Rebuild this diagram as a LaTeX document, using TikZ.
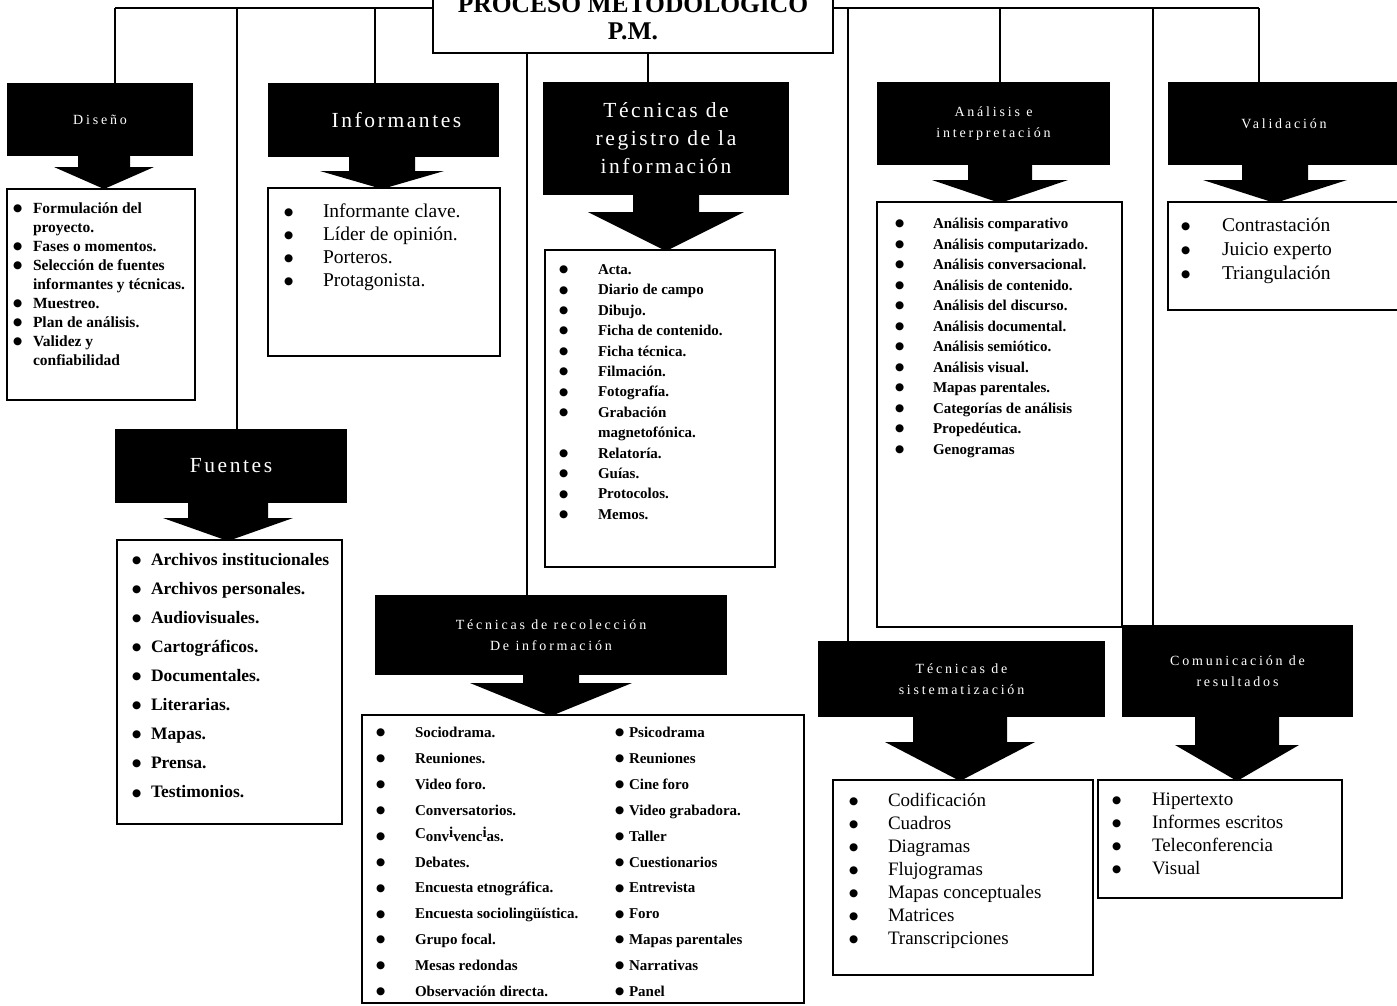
\documentclass[tikz,border=0pt]{standalone}
\usepackage{fontspec}
\setmainfont{Liberation Serif}
\newfontfamily\lblsmall[LetterSpace=20]{Liberation Serif}
\newfontfamily\lblbig[LetterSpace=12]{Liberation Serif}
\newfontfamily\dvbul{DejaVu Sans}
\newcommand\bw{18pt}
\newcommand\bi{\makebox[\bw][l]{\raisebox{1.8pt}{\dvbul\fontsize{10.5}{10.5}\selectfont ●}}}
\newcommand{\blkarr}[6]{\fill ({#1-#2},#3) -- ({#1+#2},#3) -- ({#1+#2},#4) -- ({#1+#5},#4) -- (#1,#6) -- ({#1-#5},#4) -- ({#1-#2},#4) -- cycle;}
\begin{document}
\begin{tikzpicture}[x=1pt,y=-1pt,
  bbox/.style={fill=black,text=white,inner sep=0pt,outer sep=0pt,align=center},
  lbox/.style={draw=black,line width=1.8pt,fill=white,inner sep=0pt,outer sep=0pt},
  conn/.style={line width=1.8pt},
  lst/.style={inner sep=0pt,outer sep=0pt,anchor=base west,align=left},
  small/.style={font=\lblsmall\fontsize{14}{20.5}\selectfont},
  big/.style={font=\lblbig\fontsize{21.5}{28}\selectfont},
]
\useasboundingbox (0,0) rectangle (1397,1005);
\clip (0,0) rectangle (1397,1005);
\fill[white] (0,0) rectangle (1397,1005);

% title
\node[draw,line width=2.5pt,fill=white,minimum width=400pt,minimum height=90pt,inner sep=0pt,outer sep=0pt] (title) at (633,8) {};
\node[anchor=base,inner sep=0pt,font=\fontsize{25.5}{28}\selectfont\bfseries] (t1) at (633,12) {PROCESO METODOLOGICO};
\node[anchor=base,inner sep=0pt,font=\fontsize{25.5}{28}\selectfont\bfseries] (t2) at (633,39) {P.M.};

% black header boxes
\node[bbox,minimum width=186pt,minimum height=73pt,small] (dis) at (100,119.5) {Diseño};
\node[bbox,minimum width=231pt,minimum height=74pt,big] (inf) at (383.5,120) {\hspace*{26pt}Informantes};
\node[bbox,minimum width=246pt,minimum height=113pt,big] (reg) at (666,138.5) {Técnicas de\\registro de la\\información};
\node[bbox,minimum width=233pt,minimum height=83pt,small] (ana) at (993.5,123.5) {Análisis e\\interpretación};
\node[bbox,minimum width=232pt,minimum height=83pt,small] (val) at (1284,123.5) {Validación};
\node[bbox,minimum width=232pt,minimum height=74pt,big] (fue) at (231,466) {Fuentes};
\node[bbox,minimum width=352pt,minimum height=80pt,small] (rec) at (551,635) {Técnicas de recolección\\De información};
\node[bbox,minimum width=287pt,minimum height=76pt,small] (sis) at (961.5,679) {Técnicas de\\sistematización};
\node[bbox,minimum width=231pt,minimum height=92pt,small] (com) at (1237.5,671) {Comunicación de\\resultados};

% connectors
\coordinate (b1) at (115,8);
\coordinate (b2) at (237,8);
\coordinate (b3) at (375,8);
\coordinate (b4) at (848,8);
\coordinate (b5) at (1000,8);
\coordinate (b6) at (1153,8);
\coordinate (b7) at (1259,8);
\coordinate (c1) at (527,53);
\coordinate (c2) at (648,53);
\draw[conn] (b1) -- (title.west |- b1);
\draw[conn] (title.east |- b7) -- (b7);
\draw[conn] (b1) -- (b1 |- dis.north);
\draw[conn] (b2) -- (b2 |- fue.north);
\draw[conn] (b3) -- (b3 |- inf.north);
\draw[conn] (b4) -- (b4 |- sis.north);
\draw[conn] (b5) -- (b5 |- ana.north);
\draw[conn] (b6) -- (b6 |- com.north);
\draw[conn] (b7) -- (b7 |- val.north);
\draw[conn] (c1) -- (c1 |- rec.north);
\draw[conn] (c2) -- (c2 |- reg.north);

% list boxes
\node[lbox,minimum width=188pt,minimum height=211pt] (ldis) at (101,294.5) {};
\node[lbox,minimum width=232pt,minimum height=168pt] (linf) at (384,272) {};
\node[lbox,minimum width=230pt,minimum height=317pt] (lreg) at (660,408.5) {};
\node[lbox,minimum width=245pt,minimum height=425pt] (lana) at (999.5,414.5) {};
\node[lbox,minimum width=232pt,minimum height=108pt] (lval) at (1284,256) {};
\node[lbox,minimum width=225pt,minimum height=284pt] (lfue) at (229.5,682) {};
\node[lbox,minimum width=442pt,minimum height=288pt] (lrec) at (583,859) {};
\node[lbox,minimum width=260pt,minimum height=195pt] (lsis) at (963,877.5) {};
\node[lbox,minimum width=244pt,minimum height=118pt] (lcom) at (1220,839) {};

% block arrows
\blkarr{104}{26}{155}{167}{50}{189}
\blkarr{382}{33}{156}{171}{62}{189}
\blkarr{666}{33}{194}{212}{78}{251}
\blkarr{1000}{32}{164}{180}{68}{203}
\blkarr{1275}{33}{164}{180}{72}{203}
\blkarr{228}{40}{502}{518}{65}{541}
\blkarr{551}{28}{674}{683}{81}{716}
\blkarr{960}{47}{716}{742}{75}{781}
\blkarr{1237}{42}{716}{745}{62}{781}

% list texts
\node[lst] (tdis) at (13,213) {\fontsize{15.5}{19}\selectfont\bfseries\renewcommand\bw{20pt}%
\begin{tabular}[t]{@{}l@{}l@{}}
\bi&Formulación del\\
&proyecto.\\
\bi&Fases o momentos.\\
\bi&Selección de fuentes\\
&informantes y técnicas.\\
\bi&Muestreo.\\
\bi&Plan de análisis.\\
\bi&Validez y\\
&confiabilidad
\end{tabular}};

\node[lst] (tinf) at (284,217) {\fontsize{19.5}{23}\selectfont\renewcommand\bw{39pt}%
\begin{tabular}[t]{@{}l@{}l@{}}
\bi&Informante clave.\\
\bi&Líder de opinión.\\
\bi&Porteros.\\
\bi&Protagonista.
\end{tabular}};

\node[lst] (treg) at (559,274.5) {\fontsize{15}{20.4}\selectfont\bfseries\renewcommand\bw{39pt}%
\begin{tabular}[t]{@{}l@{}l@{}}
\bi&Acta.\\
\bi&Diario de campo\\
\bi&Dibujo.\\
\bi&Ficha de contenido.\\
\bi&Ficha técnica.\\
\bi&Filmación.\\
\bi&Fotografía.\\
\bi&Grabación\\
&magnetofónica.\\
\bi&Relatoría.\\
\bi&Guías.\\
\bi&Protocolos.\\
\bi&Memos.
\end{tabular}};

\node[lst] (tana) at (895,228.5) {\fontsize{15}{20.5}\selectfont\bfseries\renewcommand\bw{38pt}%
\begin{tabular}[t]{@{}l@{}l@{}}
\bi&Análisis comparativo\\
\bi&Análisis computarizado.\\
\bi&Análisis conversacional.\\
\bi&Análisis de contenido.\\
\bi&Análisis del discurso.\\
\bi&Análisis documental.\\
\bi&Análisis semiótico.\\
\bi&Análisis visual.\\
\bi&Mapas parentales.\\
\bi&Categorías de análisis\\
\bi&Propedéutica.\\
\bi&Genogramas
\end{tabular}};

\node[lst] (tval) at (1181,231) {\fontsize{19.5}{24}\selectfont\renewcommand\bw{41pt}%
\begin{tabular}[t]{@{}l@{}l@{}}
\bi&Contrastación\\
\bi&Juicio experto\\
\bi&Triangulación
\end{tabular}};

\node[lst] (tfue) at (132,565) {\fontsize{17.5}{29.1}\selectfont\bfseries\renewcommand\bw{19pt}%
\begin{tabular}[t]{@{}l@{}l@{}}
\bi&Archivos institucionales\\
\bi&Archivos personales.\\
\bi&Audiovisuales.\\
\bi&Cartográficos.\\
\bi&Documentales.\\
\bi&Literarias.\\
\bi&Mapas.\\
\bi&Prensa.\\
\bi&Testimonios.
\end{tabular}};

\node[lst] (treca) at (376,737.5) {\fontsize{15}{25.9}\selectfont\bfseries\renewcommand\bw{39pt}%
\begin{tabular}[t]{@{}l@{}l@{}}
\bi&Sociodrama.\\
\bi&Reuniones.\\
\bi&Video foro.\\
\bi&Conversatorios.\\
\bi&\raisebox{3pt}{C}onv\raisebox{4pt}{i}venc\raisebox{4pt}{i}as.\\
\bi&Debates.\\
\bi&Encuesta etnográfica.\\
\bi&Encuesta sociolingüística.\\
\bi&Grupo focal.\\
\bi&Mesas redondas\\
\bi&Observación directa.
\end{tabular}};

\node[lst] (trecb) at (615,737.5) {\fontsize{15}{25.9}\selectfont\bfseries\renewcommand\bw{14pt}%
\begin{tabular}[t]{@{}l@{}l@{}}
\bi&Psicodrama\\
\bi&Reuniones\\
\bi&Cine foro\\
\bi&Video grabadora.\\
\bi&Taller\\
\bi&Cuestionarios\\
\bi&Entrevista\\
\bi&Foro\\
\bi&Mapas parentales\\
\bi&Narrativas\\
\bi&Panel
\end{tabular}};

\node[lst] (tsis) at (849,806) {\fontsize{19}{23}\selectfont\renewcommand\bw{39pt}%
\begin{tabular}[t]{@{}l@{}l@{}}
\bi&Codificación\\
\bi&Cuadros\\
\bi&Diagramas\\
\bi&Flujogramas\\
\bi&Mapas conceptuales\\
\bi&Matrices\\
\bi&Transcripciones
\end{tabular}};

\node[lst] (tcom) at (1112,805) {\fontsize{19}{23}\selectfont\renewcommand\bw{40pt}%
\begin{tabular}[t]{@{}l@{}l@{}}
\bi&Hipertexto\\
\bi&Informes escritos\\
\bi&Teleconferencia\\
\bi&Visual
\end{tabular}};
\end{tikzpicture}
\end{document}
